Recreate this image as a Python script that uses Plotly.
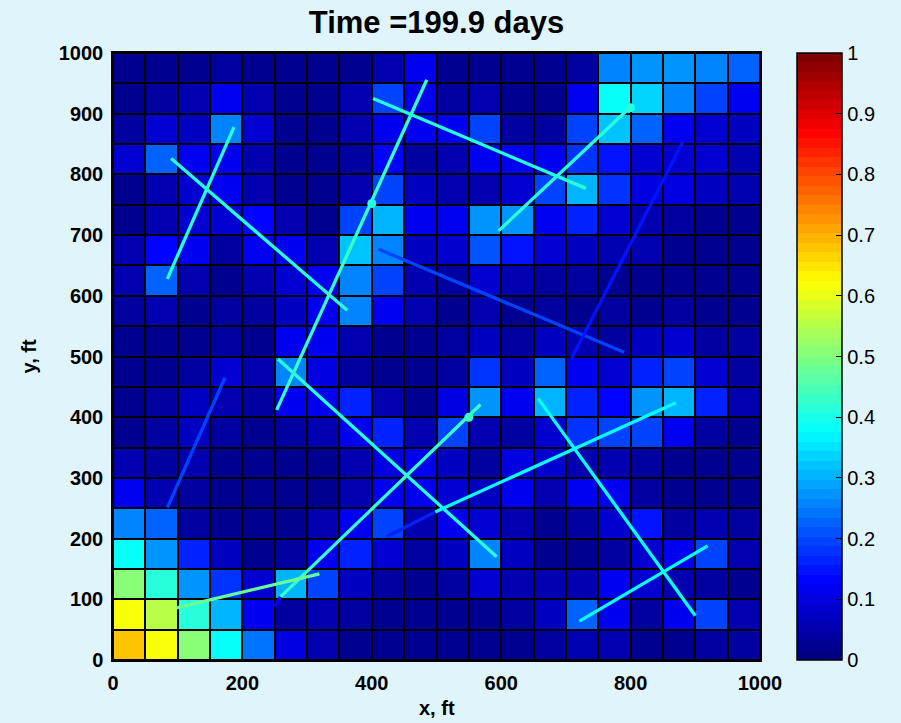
import plotly.graph_objects as go

# ---------------- data ----------------
cell_x = [25, 75, 125, 175, 225, 275, 325, 375, 425, 475,
          525, 575, 625, 675, 725, 775, 825, 875, 925, 975]
cell_y = [25, 75, 125, 175, 225, 275, 325, 375, 425, 475,
          525, 575, 625, 675, 725, 775, 825, 875, 925, 975]

# rows from bottom (y=0..50) to top (y=950..1000)
row00 = [0.68, 0.61, 0.51, 0.39, 0.24, 0.10, 0.05, 0.03, 0.03, 0.03, 0.03, 0.03, 0.03, 0.04, 0.05, 0.05, 0.03, 0.03, 0.04, 0.04]
row01 = [0.61, 0.55, 0.42, 0.30, 0.12, 0.04, 0.05, 0.04, 0.03, 0.03, 0.02, 0.03, 0.04, 0.07, 0.23, 0.11, 0.04, 0.11, 0.20, 0.05]
row02 = [0.51, 0.41, 0.28, 0.18, 0.08, 0.31, 0.20, 0.07, 0.04, 0.03, 0.04, 0.09, 0.06, 0.05, 0.06, 0.11, 0.08, 0.05, 0.04, 0.03]
row03 = [0.375, 0.28, 0.16, 0.07, 0.03, 0.04, 0.11, 0.16, 0.08, 0.04, 0.07, 0.25, 0.07, 0.03, 0.02, 0.04, 0.08, 0.11, 0.20, 0.05]
row04 = [0.26, 0.22, 0.04, 0.02, 0.02, 0.03, 0.05, 0.12, 0.20, 0.05, 0.12, 0.08, 0.05, 0.03, 0.04, 0.08, 0.15, 0.04, 0.05, 0.04]
row05 = [0.11, 0.05, 0.04, 0.02, 0.02, 0.02, 0.03, 0.06, 0.11, 0.12, 0.08, 0.07, 0.11, 0.05, 0.11, 0.12, 0.04, 0.03, 0.02, 0.02]
row06 = [0.05, 0.04, 0.06, 0.03, 0.02, 0.02, 0.02, 0.05, 0.10, 0.12, 0.07, 0.04, 0.10, 0.08, 0.06, 0.05, 0.04, 0.03, 0.02, 0.02]
row07 = [0.02, 0.04, 0.07, 0.04, 0.02, 0.04, 0.05, 0.11, 0.16, 0.06, 0.19, 0.06, 0.04, 0.08, 0.18, 0.20, 0.19, 0.11, 0.04, 0.03]
row08 = [0.02, 0.04, 0.07, 0.06, 0.04, 0.12, 0.12, 0.16, 0.05, 0.03, 0.10, 0.28, 0.12, 0.31, 0.16, 0.14, 0.27, 0.31, 0.17, 0.05]
row09 = [0.02, 0.03, 0.04, 0.09, 0.05, 0.25, 0.10, 0.04, 0.03, 0.02, 0.04, 0.18, 0.07, 0.22, 0.11, 0.09, 0.17, 0.19, 0.08, 0.04]
row10 = [0.03, 0.03, 0.03, 0.04, 0.03, 0.11, 0.11, 0.05, 0.03, 0.02, 0.04, 0.07, 0.04, 0.07, 0.06, 0.04, 0.07, 0.09, 0.04, 0.04]
row11 = [0.04, 0.06, 0.03, 0.04, 0.04, 0.07, 0.11, 0.25, 0.12, 0.05, 0.03, 0.05, 0.03, 0.04, 0.03, 0.04, 0.03, 0.04, 0.03, 0.02]
row12 = [0.06, 0.23, 0.05, 0.03, 0.05, 0.09, 0.11, 0.25, 0.19, 0.06, 0.04, 0.08, 0.06, 0.04, 0.04, 0.03, 0.03, 0.02, 0.02, 0.02]
row13 = [0.06, 0.13, 0.11, 0.04, 0.11, 0.11, 0.05, 0.32, 0.26, 0.07, 0.08, 0.21, 0.15, 0.08, 0.07, 0.05, 0.05, 0.03, 0.02, 0.02]
row14 = [0.02, 0.05, 0.08, 0.09, 0.13, 0.05, 0.03, 0.19, 0.30, 0.11, 0.12, 0.28, 0.27, 0.12, 0.16, 0.08, 0.05, 0.04, 0.03, 0.02]
row15 = [0.02, 0.05, 0.09, 0.11, 0.05, 0.03, 0.03, 0.05, 0.20, 0.07, 0.05, 0.06, 0.09, 0.19, 0.31, 0.18, 0.10, 0.10, 0.07, 0.06]
row16 = [0.08, 0.22, 0.11, 0.12, 0.05, 0.02, 0.02, 0.04, 0.14, 0.04, 0.05, 0.12, 0.11, 0.12, 0.18, 0.15, 0.09, 0.08, 0.08, 0.06]
row17 = [0.04, 0.08, 0.07, 0.26, 0.09, 0.03, 0.02, 0.05, 0.11, 0.11, 0.12, 0.20, 0.04, 0.04, 0.19, 0.32, 0.23, 0.12, 0.09, 0.07]
row18 = [0.02, 0.04, 0.05, 0.12, 0.05, 0.02, 0.02, 0.05, 0.19, 0.12, 0.04, 0.05, 0.03, 0.03, 0.12, 0.375, 0.34, 0.25, 0.20, 0.12]
row19 = [0.02, 0.03, 0.03, 0.04, 0.02, 0.02, 0.02, 0.03, 0.05, 0.12, 0.03, 0.02, 0.02, 0.02, 0.04, 0.25, 0.28, 0.28, 0.25, 0.22]

# fracture segments: start / end (ft) and saturation value
frac_x0 = [84, 90, 253, 402, 596, 410, 709, 84, 255, 259, 250, 423, 498, 657, 721, 98]
frac_y0 = [628, 826, 412, 925, 707, 677, 497, 251, 496, 104, 88, 203, 244, 431, 64, 86]
frac_x1 = [187, 362, 485, 731, 800, 790, 881, 173, 593, 568, 259, 498, 870, 900, 919, 319]
frac_y1 = [878, 576, 956, 777, 911, 507, 854, 465, 170, 421, 104, 244, 424, 73, 188, 142]
frac_val = [0.42, 0.42, 0.43, 0.42, 0.42, 0.19, 0.15, 0.19, 0.42, 0.43, 0.13, 0.17, 0.39, 0.39, 0.39, 0.48]

# well markers
well_x = [400, 800, 550]
well_y = [752, 910, 400]
well_val = [0.42, 0.42, 0.43]

title_text = "Time =199.9 days"
x_ticks = [0, 200, 400, 600, 800, 1000]
y_ticks = [0, 100, 200, 300, 400, 500, 600, 700, 800, 900, 1000]
cbar_ticks = [0, 0.1, 0.2, 0.3, 0.4, 0.5, 0.6, 0.7, 0.8, 0.9, 1]

# ---------------- colormap (MATLAB jet, 64 levels) ----------------
def jet(v):
    v = min(max(v, 0.0), 1.0)
    def ch(x):
        return min(max(1.5 - abs(4 * v - x), 0.0), 1.0)
    r, g, b = ch(3), ch(2), ch(1)
    return "rgb(%d,%d,%d)" % (round(r * 255), round(g * 255), round(b * 255))

N = 64
jet_colors = [jet(i / (N - 1)) for i in range(N)]
colorscale = []
for i, c in enumerate(jet_colors):
    colorscale.append([i / N, c])
    colorscale.append([(i + 1) / N, c])

def qcolor(v):
    idx = min(int(v * N), N - 1)
    return jet_colors[idx]

z = [row00, row01, row02, row03, row04, row05, row06, row07, row08, row09,
     row10, row11, row12, row13, row14, row15, row16, row17, row18, row19]

FONT = "Liberation Sans, Arial, Helvetica, sans-serif"
BG = "#E0F4FC"

fig = go.Figure()
fig.add_trace(go.Heatmap(
    x=cell_x, y=cell_y, z=z, zmin=0, zmax=1,
    colorscale=colorscale, xgap=2, ygap=2,
    colorbar=dict(
        x=1.0572, xanchor="left", xpad=0, y=0.5, yanchor="middle",
        len=1, lenmode="fraction", ypad=0, thickness=45,
        outlinecolor="black", outlinewidth=1.5,
        tickvals=cbar_ticks, ticktext=[("%g" % t) for t in cbar_ticks],
        ticks="inside", ticklen=6, tickcolor="black",
        tickfont=dict(family=FONT, size=20, color="black"),
    ),
    hoverinfo="skip",
))

for x0, y0, x1, y1, v in zip(frac_x0, frac_y0, frac_x1, frac_y1, frac_val):
    fig.add_trace(go.Scatter(
        x=[x0, x1], y=[y0, y1], mode="lines",
        line=dict(color=qcolor(v), width=3.3),
        showlegend=False, hoverinfo="skip",
    ))

fig.add_trace(go.Scatter(
    x=well_x, y=well_y, mode="markers",
    marker=dict(color=[qcolor(v) for v in well_val], size=9),
    showlegend=False, hoverinfo="skip",
))

axis_common = dict(
    showgrid=False, zeroline=False, showline=True, linecolor="black",
    linewidth=1.5, mirror="ticks", ticks="inside", ticklen=5,
    tickcolor="black", range=[0, 1000],
    tickfont=dict(family=FONT, size=20, color="black", weight="bold"),
)

fig.update_layout(
    width=901, height=723,
    margin=dict(l=113, r=141, t=53, b=63),
    paper_bgcolor=BG, plot_bgcolor="black",
    showlegend=False,
    title=dict(text=title_text, x=0.5, xref="paper", xanchor="center",
               y=1 - 22 / 723, yref="container", yanchor="middle",
               font=dict(family=FONT, size=31, color="black", weight="bold")),
    xaxis=dict(axis_common, tickvals=x_ticks, ticklabelstandoff=4),
    yaxis=dict(axis_common, tickvals=y_ticks, ticklabelstandoff=4),
    annotations=[
        dict(text="x, ft", x=0.5, y=-0.079, xref="paper", yref="paper",
             xanchor="center", yanchor="middle", showarrow=False,
             font=dict(family=FONT, size=20, color="black", weight="bold")),
        dict(text="y, ft", x=-0.13, y=0.5, xref="paper", yref="paper",
             xanchor="center", yanchor="middle", showarrow=False, textangle=-90,
             font=dict(family=FONT, size=20, color="black", weight="bold")),
    ],
)

fig.write_html("out.html")
